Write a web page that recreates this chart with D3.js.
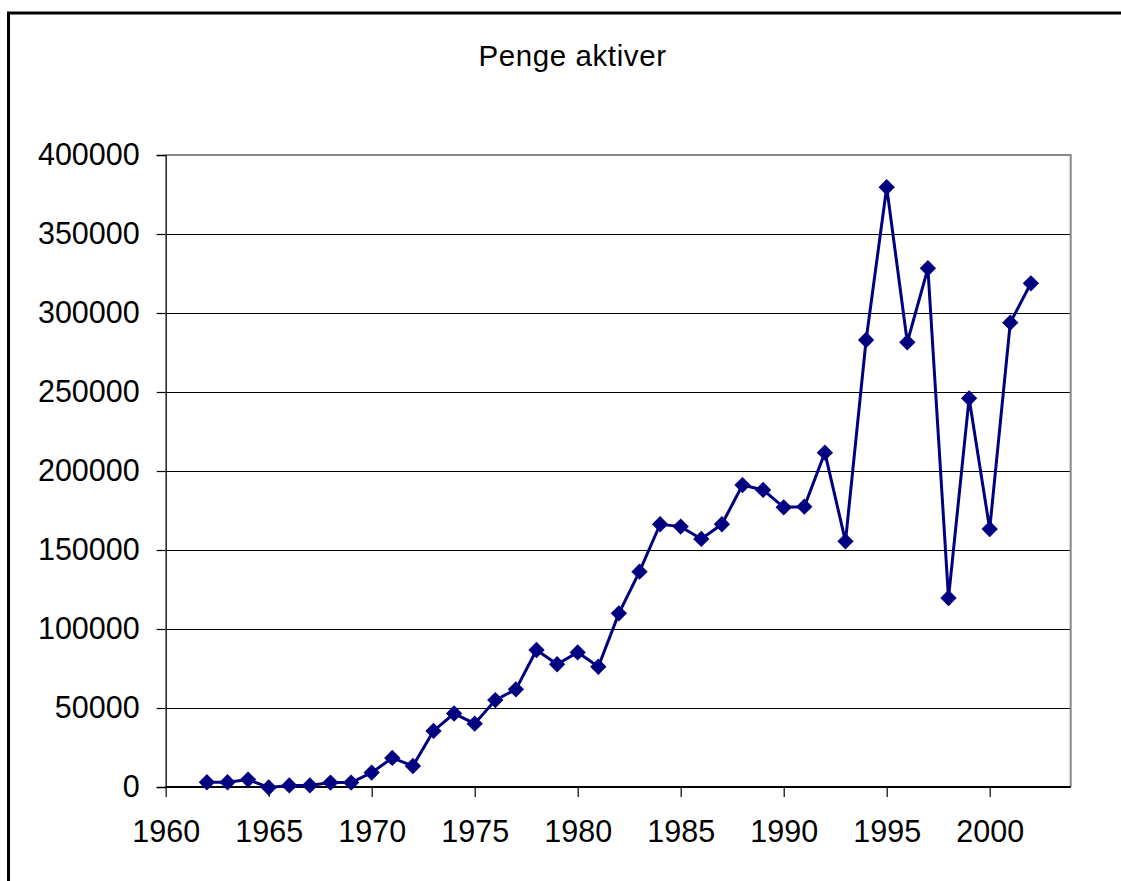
<!DOCTYPE html>
<html><head><meta charset="utf-8">
<script src="https://cdn.jsdelivr.net/npm/d3@7"></script>
<style>html,body{margin:0;padding:0;background:#fff;}svg{display:block;}</style>
</head><body>
<script>
const title = "Penge aktiver";
const years = [1962,1963,1964,1965,1966,1967,1968,1969,1970,1971,1972,1973,1974,1975,1976,1977,1978,1979,1980,1981,1982,1983,1984,1985,1986,1987,1988,1989,1990,1991,1992,1993,1994,1995,1996,1997,1998,1999,2000,2001,2002];
const values = [3000,3000,4700,-300,1000,1000,2800,2800,9100,18400,13300,35500,46500,40100,55000,61800,86700,77700,85200,76100,109900,136300,166300,164800,157000,166300,191100,188000,177000,177400,211600,155500,282900,379600,281500,328300,119600,246000,163300,293900,318800];
const xTicks = [1960,1965,1970,1975,1980,1985,1990,1995,2000];
const yTicks = [0,50000,100000,150000,200000,250000,300000,350000,400000];

const W = 1121, H = 881;
const L = 165.7, R = 1070.7, T = 155, B = 787;
const svg = d3.select("body").append("svg").attr("width", W).attr("height", H);
svg.append("rect").attr("width", W).attr("height", H).attr("fill", "#fff");

// outer chart border (top & left visible)
svg.append("path").attr("d", `M8.5,${H+5} V13 H${W+5}`).attr("fill","none").attr("stroke","#000").attr("stroke-width",3);

const x = d3.scaleLinear().domain([1960, 2000]).range([L, 989.7]);
const y = d3.scaleLinear().domain([0, 400000]).range([B, T]);
const font = "'Liberation Sans', Arial, sans-serif";

svg.append("text").attr("x", 572.5).attr("y", 66).attr("text-anchor","middle")
  .attr("font-family", font).attr("font-size", 29.5).attr("letter-spacing", 0.6).attr("fill","#000").text(title);

// gridlines
svg.append("g").selectAll("line").data(yTicks.filter(d => d > 0 && d < 400000)).join("line")
  .attr("x1", L).attr("x2", R).attr("y1", d => Math.round(y(d)) + 0.5).attr("y2", d => Math.round(y(d)) + 0.5)
  .attr("stroke", "#000").attr("stroke-width", 1.2);

// plot frame top/right gray
svg.append("path").attr("d", `M${L},${y(400000)} H${R} V${B}`).attr("fill","none").attr("stroke","#888").attr("stroke-width",2);

// Y axis
const yAxis = d3.axisLeft(y).tickValues(yTicks).tickSize(9).tickPadding(17).tickFormat(d3.format("d"));
const gy = svg.append("g").attr("transform", `translate(${L},0)`).call(yAxis);
gy.select(".domain").attr("stroke", "#222").attr("stroke-width", 1.5);
gy.selectAll(".tick line").attr("stroke", "#000").attr("stroke-width", 1.2);
gy.selectAll("text").attr("font-family", font).attr("font-size", 30.5).attr("fill", "#000");

// X axis
const xAxis = d3.axisBottom(x).tickValues(xTicks).tickSize(10).tickPadding(23).tickFormat(d3.format("d"));
const gx = svg.append("g").attr("transform", `translate(0,${B})`).call(xAxis);
gx.select(".domain").attr("d", `M${L},0H${R}`).attr("stroke", "#000").attr("stroke-width", 2);
gx.selectAll(".tick line").attr("stroke", "#000").attr("stroke-width", 1.2);
gx.selectAll("text").attr("font-family", font).attr("font-size", 30.5).attr("fill", "#000");

const data = years.map((yr, i) => ({yr, v: values[i]}));
const line = d3.line().x(d => x(d.yr)).y(d => y(d.v));
svg.append("path").datum(data).attr("d", line).attr("fill","none").attr("stroke","#000080").attr("stroke-width",3);

const sym = d3.symbol().type(d3.symbolDiamond2).size(170);
svg.append("g").selectAll("path").data(data).join("path")
  .attr("d", sym).attr("transform", d => `translate(${x(d.yr)},${y(d.v)})`)
  .attr("fill", "#000080");
</script>
</body></html>
